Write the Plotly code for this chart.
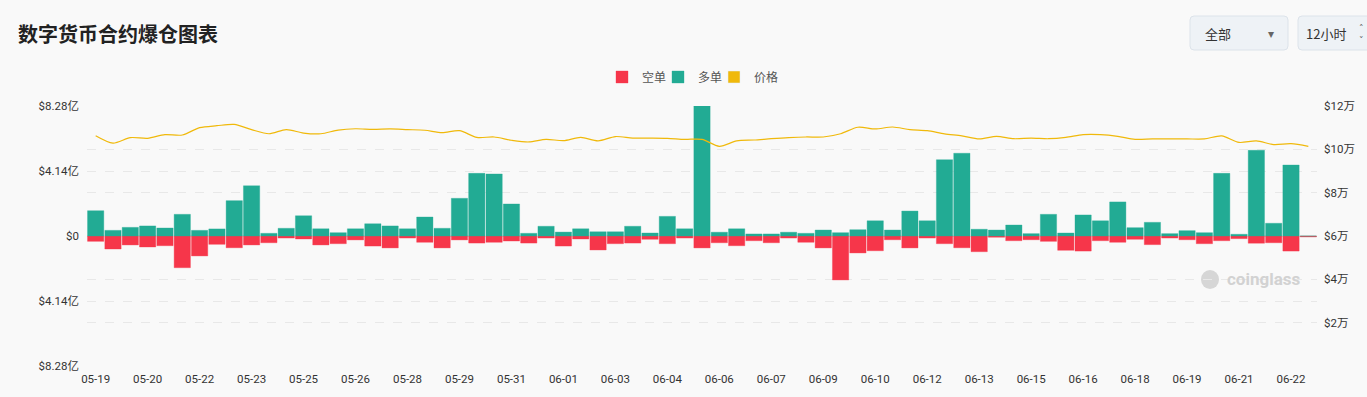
import pandas as pd
import plotly.graph_objects as go

# ---------------- data ----------------
# 12-hour buckets starting 2025-05-19 00:00 (71 buckets)
times = pd.date_range("2025-05-19 00:00", periods=71, freq="12h")
categories = [t.strftime("%m-%d %H:%M") for t in times]

tick_labels = ["05-19", "05-20", "05-22", "05-23", "05-25", "05-26", "05-28", "05-29",
               "05-31", "06-01", "06-03", "06-04", "06-06", "06-07", "06-09", "06-10",
               "06-12", "06-13", "06-15", "06-16", "06-18", "06-19", "06-21", "06-22"]

# 多单 (long liquidations), unit: 亿 USD
long_liq = [1.61, 0.36, 0.55, 0.64, 0.51, 1.38, 0.36, 0.45, 2.25, 3.20,
            0.17, 0.49, 1.29, 0.46, 0.21, 0.46, 0.78, 0.64, 0.46, 1.21,
            0.49, 2.40, 3.99, 3.95, 2.04, 0.17, 0.62, 0.25, 0.46, 0.27,
            0.27, 0.62, 0.19, 1.25, 0.46, 8.28, 0.24, 0.46, 0.13, 0.13,
            0.24, 0.17, 0.38, 0.21, 0.40, 0.97, 0.38, 1.59, 0.97, 4.86,
            5.27, 0.43, 0.38, 0.70, 0.15, 1.38, 0.19, 1.34, 0.97, 2.17,
            0.53, 0.87, 0.15, 0.34, 0.21, 3.99, 0.11, 5.46, 0.81, 4.52,
            0.00]

# 空单 (short liquidations), unit: 亿 USD
short_liq = [0.34, 0.83, 0.57, 0.70, 0.62, 2.02, 1.27, 0.53, 0.75, 0.57,
             0.43, 0.13, 0.19, 0.57, 0.49, 0.25, 0.64, 0.76, 0.13, 0.40,
             0.76, 0.25, 0.45, 0.40, 0.32, 0.45, 0.13, 0.64, 0.19, 0.89,
             0.49, 0.45, 0.21, 0.49, 0.13, 0.76, 0.43, 0.62, 0.30, 0.43,
             0.13, 0.40, 0.76, 2.80, 1.08, 0.94, 0.24, 0.76, 0.13, 0.49,
             0.75, 1.00, 0.08, 0.30, 0.24, 0.34, 0.91, 0.96, 0.30, 0.40,
             0.21, 0.55, 0.13, 0.24, 0.49, 0.30, 0.17, 0.46, 0.43, 0.96,
             0.06]

# 价格 (BTC price, USD)
price = [106300, 102900, 105400, 105100, 106800, 106600, 110000, 110900, 111500, 109100,
         107200, 109100, 107500, 107200, 108900, 109500, 109200, 109400, 109100, 108800,
         107700, 108600, 105500, 105700, 104200, 103400, 104600, 104000, 105500, 103900,
         105900, 105200, 105200, 105100, 104600, 104600, 101400, 103900, 104300, 104900,
         105400, 105700, 105700, 107200, 110200, 109400, 110300, 109100, 108600, 107100,
         106200, 104800, 106000, 104900, 105200, 104900, 105500, 106800, 106800, 106000,
         104600, 104800, 104800, 104800, 104800, 106200, 103200, 103900, 102200, 102600,
         101400]

left_ticks = [-8.28, -4.14, 0, 4.14, 8.28]
left_tick_text = ["$8.28亿", "$4.14亿", "$0", "$4.14亿", "$8.28亿"]
right_ticks = [20000, 40000, 60000, 80000, 100000, 120000]
right_tick_text = ["$2万", "$4万", "$6万", "$8万", "$10万", "$12万"]

RED = "#F6364A"
GREEN = "#22AB94"
YELLOW = "#F0B90B"
BG = "#F9F9F9"

# ---------------- figure ----------------
W, H = 1367, 397
ML, MR, MT, MB = 87, 50, 106, 31
PW, PH = W - ML - MR, H - MT - MB


def px_x(x):
    return (x - ML) / PW


def px_y(y):
    return (H - MB - y) / PH


fig = go.Figure()

fig.add_trace(go.Bar(
    x=categories, y=[-v for v in short_liq], name="空单", legend="legend",
    marker=dict(color=RED, line=dict(color="rgba(246,54,74,0.35)", width=1)),
))
fig.add_trace(go.Bar(
    x=categories, y=long_liq, name="多单", legend="legend2",
    marker=dict(color=GREEN, line=dict(color="rgba(34,171,148,0.35)", width=1)),
))
fig.add_trace(go.Scatter(
    x=categories, y=price, name="价格", yaxis="y2", mode="lines",
    line=dict(color=YELLOW, width=1.2, shape="spline", smoothing=0.8),
    showlegend=False,
))
# legend entry for price shown as a square, like the other series
fig.add_trace(go.Bar(
    x=[None], y=[None], name="价格", marker=dict(color=YELLOW), yaxis="y2",
    legend="legend3",
))

axis_font = dict(family="Roboto, Noto Sans CJK SC, sans-serif", size=11.5, color="#333333")


def legend_at(xpx):
    return dict(
        orientation="h", x=px_x(xpx), xanchor="left", y=px_y(77), yanchor="middle",
        font=dict(family="Noto Sans CJK SC, sans-serif", size=12, color="#555555"),
        itemwidth=30, bgcolor="rgba(0,0,0,0)",
    )


fig.update_layout(
    width=W, height=H,
    margin=dict(l=ML, r=MR, t=MT, b=MB),
    paper_bgcolor=BG, plot_bgcolor=BG,
    barmode="relative", bargap=0.06,
    showlegend=True,
    legend=legend_at(602),
    legend2=legend_at(658),
    legend3=legend_at(714),
    xaxis=dict(
        type="category", tickvals=categories[::3], ticktext=tick_labels,
        tickfont=axis_font, showgrid=False, zeroline=False, showline=False,
        ticks="", tickangle=0, ticklabelstandoff=4,
    ),
    yaxis=dict(
        range=[-8.28, 8.28], tickvals=left_ticks, ticktext=left_tick_text,
        tickfont=axis_font, showgrid=True, gridcolor="#E8E8E8", griddash="dash",
        zeroline=False, showline=False, ticks="", ticklabelstandoff=7,
    ),
    yaxis2=dict(
        range=[0, 120000], overlaying="y", side="right",
        tickvals=right_ticks, ticktext=right_tick_text,
        tickfont=axis_font, showgrid=True, gridcolor="#E8E8E8", griddash="dash",
        zeroline=False, showline=False, ticks="", ticklabelstandoff=6,
    ),
    font=dict(family="Noto Sans CJK SC, sans-serif"),
)

annotations = [
    dict(text="<b>数字货币合约爆仓图表</b>", x=px_x(16), y=px_y(33), xref="paper", yref="paper",
         xanchor="left", yanchor="middle", showarrow=False,
         font=dict(family="Noto Sans CJK SC, sans-serif", size=20, color="#222222")),
    dict(text="全部", x=px_x(1203), y=px_y(33), xref="paper", yref="paper",
         xanchor="left", yanchor="middle", showarrow=False,
         font=dict(family="Noto Sans CJK SC, sans-serif", size=13, color="#333333")),
    dict(text="▾", x=px_x(1271), y=px_y(34), xref="paper", yref="paper",
         xanchor="center", yanchor="middle", showarrow=False,
         font=dict(family="DejaVu Sans", size=12, color="#666666")),
    dict(text="12小时", x=px_x(1304), y=px_y(33), xref="paper", yref="paper",
         xanchor="left", yanchor="middle", showarrow=False,
         font=dict(family="Noto Sans CJK SC, sans-serif", size=13, color="#333333")),
    dict(text="˄<br>˅", x=px_x(1361), y=px_y(34), xref="paper", yref="paper",
         xanchor="center", yanchor="middle", showarrow=False,
         font=dict(family="DejaVu Sans", size=9, color="#555555")),
    dict(text="<b>coinglass</b>", x=px_x(1225), y=px_y(279), xref="paper", yref="paper",
         xanchor="left", yanchor="middle", showarrow=False,
         font=dict(family="Roboto, sans-serif", size=17, color="#D2D2D2")),
]
fig.update_layout(annotations=annotations)


def rrect(x0, y0, x1, y1, r):
    X0, X1 = px_x(x0), px_x(x1)
    Y0, Y1 = px_y(y0), px_y(y1)
    rx, ry = r / PW, r / PH
    return (f"M {X0+rx},{Y0} L {X1-rx},{Y0} Q {X1},{Y0} {X1},{Y0-ry} "
            f"L {X1},{Y1+ry} Q {X1},{Y1} {X1-rx},{Y1} L {X0+rx},{Y1} "
            f"Q {X0},{Y1} {X0},{Y1+ry} L {X0},{Y0-ry} Q {X0},{Y0} {X0+rx},{Y0} Z")


shapes = [
    dict(type="path", xref="paper", yref="paper", path=rrect(1190, 16, 1288, 50, 4),
         fillcolor="#EEF2F6", line=dict(color="#DCE3EA", width=1), layer="below"),
    dict(type="path", xref="paper", yref="paper", path=rrect(1298, 16, 1380, 50, 4),
         fillcolor="#EEF2F6", line=dict(color="#DCE3EA", width=1), layer="below"),
    # watermark logo blob
    dict(type="circle", xref="paper", yref="paper",
         x0=px_x(1201), x1=px_x(1219), y0=px_y(289), y1=px_y(270),
         fillcolor="#D6D6D6", line=dict(width=0), layer="below"),
]
fig.update_layout(shapes=shapes)

fig.write_html(
    "out.html",
    config={"displayModeBar": False},
    post_script="document.body.style.margin='0';document.body.style.overflow='hidden';",
)
